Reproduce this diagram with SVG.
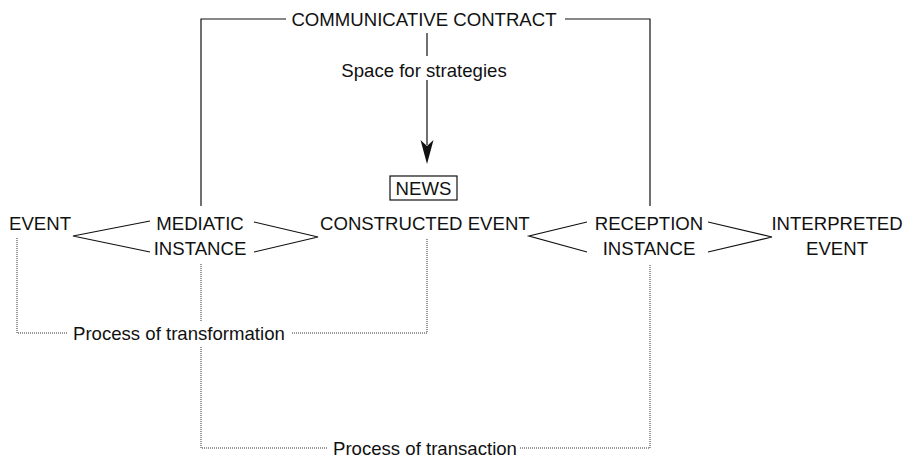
<svg xmlns="http://www.w3.org/2000/svg" width="904" height="459" viewBox="0 0 904 459">
<style>
text{font-family:"Liberation Sans",Arial,sans-serif;font-size:18.6px;fill:#111}
.s{fill:none;stroke:#111;stroke-width:1.2}
.d{fill:none;stroke:#333;stroke-width:1;stroke-dasharray:1 1}
.m{text-anchor:middle}
</style>
<rect width="904" height="459" fill="#fff"/>
<g id="contract"><text class="m" x="424" y="25.5">COMMUNICATIVE CONTRACT</text></g>
<g id="strategies"><text class="m" x="424" y="77">Space for strategies</text></g>
<g id="news"><rect class="s" x="390" y="176" width="67" height="24"/><text class="m" x="423.5" y="195">NEWS</text></g>
<g id="event"><text x="9" y="230">EVENT</text></g>
<g id="mediatic"><text class="m" x="200" y="230">MEDIATIC</text><text class="m" x="200" y="255">INSTANCE</text></g>
<g id="constructed"><text x="320" y="230">CONSTRUCTED EVENT</text></g>
<g id="reception"><text class="m" x="649" y="230">RECEPTION</text><text class="m" x="649" y="255">INSTANCE</text></g>
<g id="interpreted"><text class="m" x="837" y="230">INTERPRETED</text><text class="m" x="837" y="255">EVENT</text></g>
<g id="transformation"><text x="73" y="339.5">Process of transformation</text></g>
<g id="transaction"><text x="333" y="455">Process of transaction</text></g>
<g id="connectors">
<polyline class="s" points="201,206 201,19 286,19"/>
<polyline class="s" points="565,19 650,19 650,206"/>
<line class="s" x1="427" y1="33" x2="427" y2="56"/>
<line class="s" x1="427" y1="80" x2="427" y2="145"/>
<polygon points="427,164 420.5,140 427,146 433.5,140" fill="#111"/>
<polyline class="s" points="150,221 73,236 150,252"/>
<polyline class="s" points="254,222 318,237 254,252"/>
<polyline class="s" points="587,222 529,236 587,252"/>
<polyline class="s" points="708,222 772,237 708,252"/>
<polyline class="d" points="17,238 17,333 67,333"/>
<polyline class="d" points="292,333 427,333 427,238"/>
<line class="d" x1="201" y1="264" x2="201" y2="322"/>
<polyline class="d" points="201,347 201,448 327,448"/>
<polyline class="d" points="520,448 650,448 650,264"/>
</g>
</svg>
